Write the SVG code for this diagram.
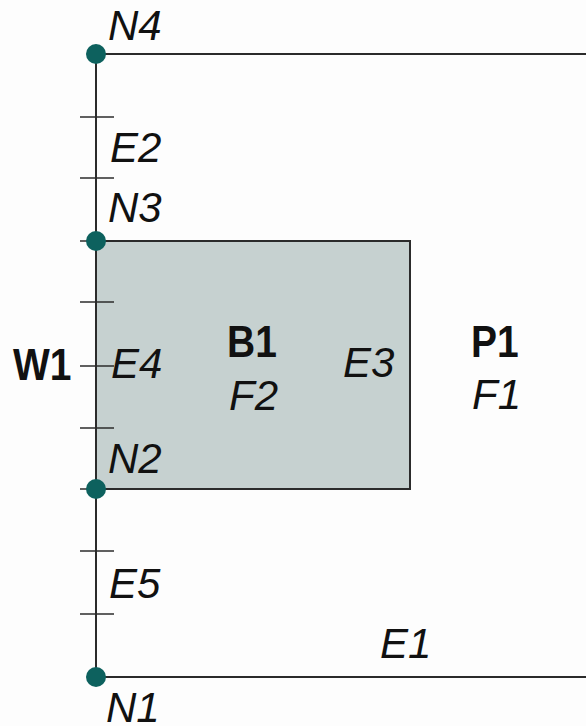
<svg xmlns="http://www.w3.org/2000/svg" width="586" height="726" viewBox="0 0 586 726">
<style>
.ln{stroke:#2b2b2b;stroke-width:2;fill:none}
.tk{stroke:#2b2b2b;stroke-width:1.5}
.nd{fill:#0d615e}
.it{font-family:"Liberation Sans",Arial,sans-serif;font-style:italic;font-size:42px;fill:#111}
.bd{font-family:"Liberation Sans",Arial,sans-serif;font-weight:bold;font-size:39px;fill:#111}
</style>
<rect width="586" height="726" fill="#fdfdfd"/>
<g id="B1">
<rect x="96" y="241" width="314" height="248" fill="#c6d1d0" stroke="#2b2b2b" stroke-width="2"/>
<text class="bd" transform="translate(227 357) scale(1 1.15)">B1</text>
<text class="it" x="229" y="410">F2</text>
</g>
<g id="P1">
<text class="bd" transform="translate(471 357) scale(1 1.15)">P1</text>
<text class="it" x="472" y="409">F1</text>
</g>
<g id="edges">
<line class="ln" x1="96" y1="54" x2="586" y2="54"/>
<line class="ln" x1="96" y1="677" x2="586" y2="677"/>
<line class="ln" x1="96" y1="54" x2="96" y2="677"/>
<line class="tk" x1="80" y1="117" x2="114" y2="117"/>
<line class="tk" x1="80" y1="178" x2="114" y2="178"/>
<line class="tk" x1="80" y1="241" x2="114" y2="241"/>
<line class="tk" x1="80" y1="302" x2="114" y2="302"/>
<line class="tk" x1="80" y1="366" x2="114" y2="366"/>
<line class="tk" x1="80" y1="428" x2="114" y2="428"/>
<line class="tk" x1="80" y1="489" x2="114" y2="489"/>
<line class="tk" x1="80" y1="551" x2="114" y2="551"/>
<line class="tk" x1="80" y1="614" x2="114" y2="614"/>
<text class="it" x="110" y="162">E2</text>
<text class="it" x="111" y="378">E4</text>
<text class="it" x="343" y="377">E3</text>
<text class="it" x="109" y="598">E5</text>
<text class="it" x="380" y="658">E1</text>
<text class="bd" transform="translate(13 380) scale(1 1.15)">W1</text>
</g>
<g id="N4"><circle class="nd" cx="96" cy="54" r="10"/><text class="it" x="108" y="40">N4</text></g>
<g id="N3"><circle class="nd" cx="96" cy="241" r="10"/><text class="it" x="108" y="222">N3</text></g>
<g id="N2"><circle class="nd" cx="96" cy="489" r="10"/><text class="it" x="108" y="473">N2</text></g>
<g id="N1"><circle class="nd" cx="96" cy="677" r="10"/><text class="it" x="106" y="722">N1</text></g>
</svg>
